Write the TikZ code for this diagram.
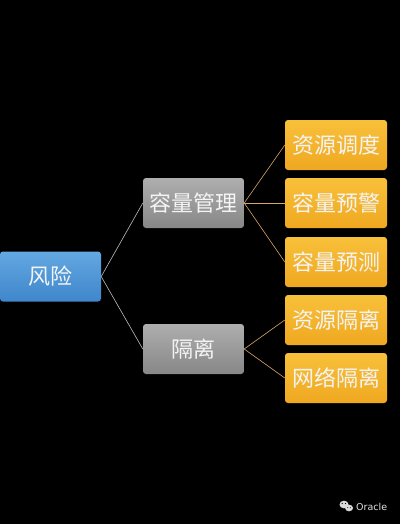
\documentclass[tikz,border=0pt]{standalone}
\usepackage{fontspec}
\newfontfamily\cjk{Noto Sans CJK SC}
\setsansfont{DejaVu Sans}
\usetikzlibrary{calc}
\definecolor{bluetop}{HTML}{63A8E2}
\definecolor{bluebot}{HTML}{3F86CB}
\definecolor{graytop}{HTML}{AEAEAE}
\definecolor{graybot}{HTML}{878787}
\definecolor{yeltop}{HTML}{F8C03A}
\definecolor{yelbot}{HTML}{EFA820}
\definecolor{linkgray}{HTML}{BDBDBD}
\definecolor{linktan}{HTML}{D9A56A}
\definecolor{txt}{HTML}{F4F4F4}
\tikzset{
  box/.style={rounded corners=3pt, minimum width=101pt, minimum height=50pt, inner sep=0pt,
    text=txt, font=\cjk\fontsize{22}{22}\selectfont},
  rootbox/.style={box, top color=bluetop, bottom color=bluebot},
  midbox/.style={box, top color=graytop, bottom color=graybot},
  leafbox/.style={box, minimum width=102pt, top color=yeltop, bottom color=yelbot},
  glink/.style={draw=linkgray, line width=0.6pt},
  tlink/.style={draw=linktan, line width=0.6pt}
}
\begin{document}
\begin{tikzpicture}[x=1pt,y=-1pt]
\fill[black] (0,0) rectangle (400,524);
\useasboundingbox (0,0) rectangle (400,524);
\node[rootbox] (root) at (50.5,276.5) {风险};
\node[midbox] (cap) at (193.5,203) {容量管理};
\node[midbox] (iso) at (193.5,349) {隔离};
\node[leafbox] (l1) at (336,145) {资源调度};
\node[leafbox] (l2) at (336,203) {容量预警};
\node[leafbox] (l3) at (336,262) {容量预测};
\node[leafbox] (l4) at (336,320) {资源隔离};
\node[leafbox] (l5) at (336,378) {网络隔离};
\draw[glink] (root.east) -- (cap.west);
\draw[glink] (root.east) -- (iso.west);
\draw[tlink] (cap.east) -- (l1.west);
\draw[tlink] (cap.east) -- (l2.west);
\draw[tlink] (cap.east) -- (l3.west);
\draw[tlink] (iso.east) -- (l4.west);
\draw[tlink] (iso.east) -- (l5.west);
% watermark
\coordinate (wm) at (346,506);
\fill[white!85!black] ($(wm)+(-2,-1.5)$) ellipse (4.5pt and 3.8pt);
\fill[white!85!black] ($(wm)+(3,2)$) ellipse (4pt and 3.3pt);
\fill[black] ($(wm)+(-3.8,-2.5)$) circle (0.7pt);
\fill[black] ($(wm)+(-0.5,-2.5)$) circle (0.7pt);
\fill[black] ($(wm)+(1.8,1.6)$) circle (0.55pt);
\fill[black] ($(wm)+(4.3,1.6)$) circle (0.55pt);
\node[anchor=west, inner sep=0pt, text=white!88!black, font=\sffamily\fontsize{9.5}{10}\selectfont] (wmtext) at (356,507) {Oracle};
\end{tikzpicture}
\end{document}
